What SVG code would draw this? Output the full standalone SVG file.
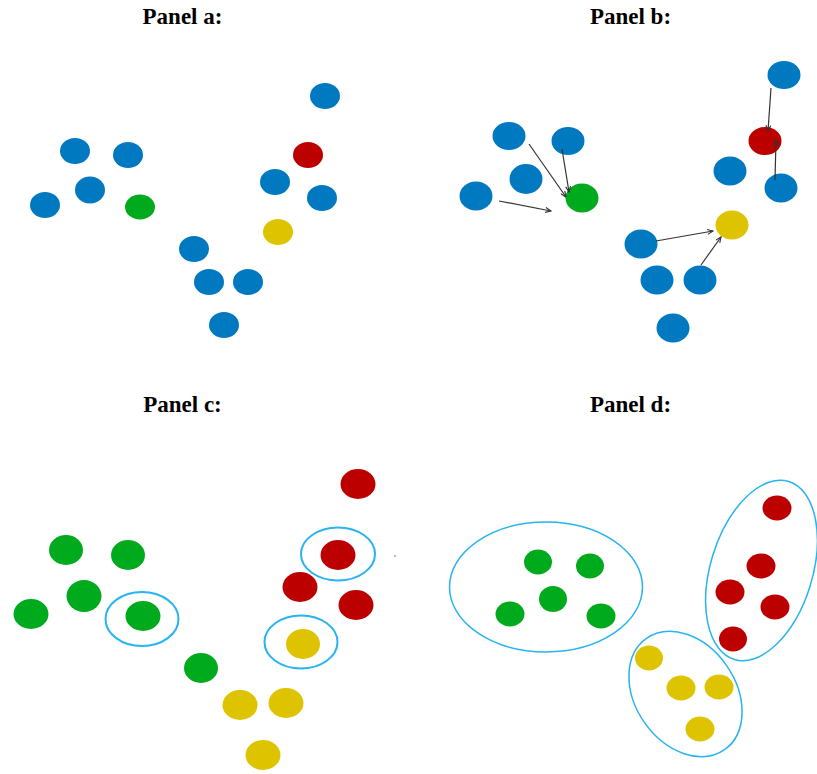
<svg xmlns="http://www.w3.org/2000/svg" width="817" height="774" viewBox="0 0 817 774">
  <style>
    .title { font-family: "Liberation Serif", "Times New Roman", serif; font-weight: bold; font-size: 23px; fill: #000; text-anchor: middle; }
    .blue { fill: #0079C1; }
    .green { fill: #00AA1D; }
    .red { fill: #BC0000; }
    .yellow { fill: #DEC400; }
    .ring { fill: none; stroke: #27B4F0; stroke-width: 2; }
    .hull { fill: none; stroke: #27B4F0; stroke-width: 1.5; }
    .link { stroke: #333; stroke-width: 1.2; fill: none; marker-end: url(#tip); }
  </style>
  <defs>
    <marker id="tip" viewBox="0 0 10 8" refX="9" refY="4" markerWidth="7" markerHeight="6" markerUnits="userSpaceOnUse" orient="auto">
      <path d="M1,0.5 L9,4 L1,7.5" fill="none" stroke="#333" stroke-width="1.6"/>
    </marker>
  </defs>
  <rect width="817" height="774" fill="#fff"/>

  <!-- Titles -->
  <text class="title" x="182.5" y="24">Panel a:</text>
  <text class="title" x="630.5" y="24">Panel b:</text>
  <text class="title" x="182.5" y="412">Panel c:</text>
  <text class="title" x="630.5" y="412">Panel d:</text>

  <!-- Panel a: data points and initial centroids -->
  <g id="panel-a">
    <g id="a1"><ellipse class="blue" cx="325" cy="96" rx="15" ry="13"/></g>
    <g id="a2"><ellipse class="red" cx="308" cy="155" rx="15" ry="13"/></g>
    <g id="a3"><ellipse class="blue" cx="75" cy="151" rx="15" ry="13"/></g>
    <g id="a4"><ellipse class="blue" cx="128" cy="155" rx="15" ry="13"/></g>
    <g id="a5"><ellipse class="blue" cx="90" cy="190" rx="15" ry="13.5"/></g>
    <g id="a6"><ellipse class="blue" cx="45" cy="205" rx="15" ry="13"/></g>
    <g id="a7"><ellipse class="green" cx="140" cy="207" rx="15" ry="12.5"/></g>
    <g id="a8"><ellipse class="blue" cx="275" cy="182" rx="15" ry="13"/></g>
    <g id="a9"><ellipse class="blue" cx="322" cy="198" rx="15" ry="13"/></g>
    <g id="a10"><ellipse class="yellow" cx="278" cy="232" rx="15" ry="13"/></g>
    <g id="a11"><ellipse class="blue" cx="194" cy="249" rx="15" ry="13"/></g>
    <g id="a12"><ellipse class="blue" cx="209" cy="282" rx="15" ry="13"/></g>
    <g id="a13"><ellipse class="blue" cx="248" cy="282" rx="15" ry="13"/></g>
    <g id="a14"><ellipse class="blue" cx="224" cy="325" rx="15" ry="13"/></g>
  </g>

  <!-- Panel b: assignment to nearest centroid -->
  <g id="panel-b">
    <g id="b1"><ellipse class="blue" cx="784" cy="75" rx="16.5" ry="14"/></g>
    <g id="b2"><ellipse class="blue" cx="509" cy="136" rx="16.5" ry="14"/></g>
    <g id="b3"><ellipse class="blue" cx="568" cy="141" rx="16.5" ry="14"/></g>
    <g id="b4"><ellipse class="blue" cx="526" cy="179" rx="16.5" ry="15"/></g>
    <g id="b5"><ellipse class="blue" cx="476" cy="196" rx="16.5" ry="14.5"/></g>
    <g id="b6"><ellipse class="green" cx="582" cy="198" rx="16.5" ry="14.5"/></g>
    <g id="b7"><ellipse class="red" cx="765" cy="141" rx="16.5" ry="14"/></g>
    <g id="b8"><ellipse class="blue" cx="730" cy="171" rx="16.5" ry="14.5"/></g>
    <g id="b9"><ellipse class="blue" cx="781" cy="188" rx="16.5" ry="14.5"/></g>
    <g id="b10"><ellipse class="yellow" cx="732" cy="225" rx="16.5" ry="14.5"/></g>
    <g id="b11"><ellipse class="blue" cx="641" cy="244" rx="16.5" ry="14.5"/></g>
    <g id="b12"><ellipse class="blue" cx="657" cy="280" rx="16.5" ry="14.5"/></g>
    <g id="b13"><ellipse class="blue" cx="700" cy="280" rx="16.5" ry="14.5"/></g>
    <g id="b14"><ellipse class="blue" cx="673" cy="328" rx="16.5" ry="14.5"/></g>
  </g>

  <g id="connectors">
    <line class="link" x1="529" y1="144" x2="566" y2="197"/>
    <line class="link" x1="562" y1="149" x2="569" y2="192"/>
    <line class="link" x1="499" y1="201" x2="551" y2="211"/>
    <line class="link" x1="771" y1="88" x2="768" y2="131"/>
    <line class="link" x1="775" y1="180" x2="776" y2="140"/>
    <line class="link" x1="656" y1="241" x2="713" y2="231"/>
    <line class="link" x1="701" y1="265" x2="721" y2="237"/>
  </g>

  <!-- Panel c: points coloured by cluster, centroids circled -->
  <g id="panel-c">
    <g id="c1"><ellipse class="red" cx="358" cy="484" rx="17.5" ry="15"/></g>
    <g id="c2"><ellipse class="red" cx="338" cy="555" rx="17.5" ry="15"/><ellipse class="ring" cx="338" cy="554" rx="37" ry="26.5"/></g>
    <g id="c3"><ellipse class="red" cx="300" cy="587" rx="17.5" ry="15"/></g>
    <g id="c4"><ellipse class="red" cx="356" cy="605" rx="17.5" ry="15"/></g>
    <g id="c5"><ellipse class="yellow" cx="303" cy="644" rx="17" ry="15"/><ellipse class="ring" cx="301" cy="642" rx="36.5" ry="26.5"/></g>
    <g id="c6"><ellipse class="green" cx="66" cy="550" rx="17" ry="15"/></g>
    <g id="c7"><ellipse class="green" cx="128" cy="555" rx="17" ry="15"/></g>
    <g id="c8"><ellipse class="green" cx="84" cy="596" rx="17.5" ry="16"/></g>
    <g id="c9"><ellipse class="green" cx="31" cy="614" rx="17.5" ry="15"/></g>
    <g id="c10"><ellipse class="green" cx="143" cy="616" rx="17.5" ry="15"/><ellipse class="ring" cx="142" cy="619" rx="36.5" ry="27"/></g>
    <g id="c11"><ellipse class="green" cx="201" cy="668" rx="17" ry="15"/></g>
    <g id="c12"><ellipse class="yellow" cx="240" cy="705" rx="17.5" ry="15"/></g>
    <g id="c13"><ellipse class="yellow" cx="286" cy="703" rx="17.5" ry="15"/></g>
    <g id="c14"><ellipse class="yellow" cx="263" cy="755" rx="17.5" ry="15"/></g>
    <circle cx="395" cy="556" r="0.9" fill="#999"/>
  </g>

  <!-- Panel d: final clusters -->
  <g id="panel-d">
    <g id="cluster-green">
      <ellipse class="hull" cx="546" cy="587" rx="96.5" ry="65"/>
      <ellipse class="green" cx="538" cy="562" rx="14" ry="12.5"/>
      <ellipse class="green" cx="590" cy="566" rx="14" ry="12.5"/>
      <ellipse class="green" cx="553" cy="599" rx="14" ry="13"/>
      <ellipse class="green" cx="510" cy="614" rx="14.5" ry="12.5"/>
      <ellipse class="green" cx="601" cy="616" rx="14.5" ry="12.5"/>
    </g>
    <g id="cluster-red">
      <ellipse class="hull" cx="0" cy="0" rx="51" ry="93" transform="translate(761.5 570.5) rotate(17)"/>
      <ellipse class="red" cx="777" cy="508" rx="14.5" ry="12.5"/>
      <ellipse class="red" cx="761" cy="566" rx="14.5" ry="12.5"/>
      <ellipse class="red" cx="730" cy="592" rx="14.5" ry="12.5"/>
      <ellipse class="red" cx="775" cy="607" rx="14.5" ry="12.5"/>
      <ellipse class="red" cx="733" cy="639" rx="14" ry="12.5"/>
    </g>
    <g id="cluster-yellow">
      <ellipse class="hull" cx="0" cy="0" rx="50" ry="68" transform="translate(685.5 694) rotate(-35)"/>
      <ellipse class="yellow" cx="649" cy="658" rx="14" ry="12.5"/>
      <ellipse class="yellow" cx="681" cy="688" rx="14.5" ry="12.5"/>
      <ellipse class="yellow" cx="719" cy="687" rx="14.5" ry="12.5"/>
      <ellipse class="yellow" cx="700" cy="729" rx="14.5" ry="12.5"/>
    </g>
  </g>
</svg>
